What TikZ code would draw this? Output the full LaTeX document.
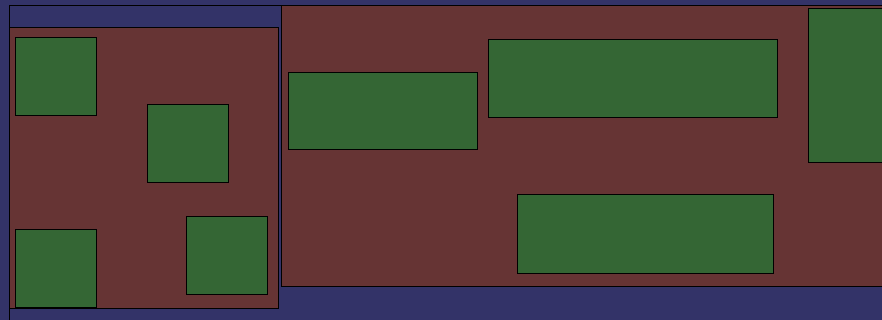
\documentclass[tikz,border=0pt]{standalone}
\usepackage{tikz}
\definecolor{planblue}{RGB}{51,51,104}
\definecolor{planred}{RGB}{102,52,52}
\definecolor{plangreen}{RGB}{52,102,52}
\tikzset{
  bluearea/.style={draw=black, fill=planblue, line width=1pt},
  redarea/.style={draw=black, fill=planred, line width=1pt},
  greenarea/.style={draw=black, fill=plangreen, line width=1pt},
}
\begin{document}
\begin{tikzpicture}[x=1pt, y=-1pt]
  \useasboundingbox (0,0) rectangle (882,320);
  \clip (0,0) rectangle (882,320);
  % Background
  \fill[planblue] (0,0) rectangle (882,320);
  \draw[bluearea] (9,6) rectangle (900,340);

  % Left block
  \draw[redarea] (9,28) rectangle (278,308);
  \draw[greenarea] (15,38) rectangle (96,116);
  \draw[greenarea] (147,105) rectangle (228,183);
  \draw[greenarea] (15,229) rectangle (96,307);
  \draw[greenarea] (186,217) rectangle (267,294);

  % Right block
  \draw[redarea] (281,6) rectangle (900,286);
  \draw[greenarea] (288,73) rectangle (477,150);
  \draw[greenarea] (488,40) rectangle (777,118);
  \draw[greenarea] (808,9) rectangle (900,163);
  \draw[greenarea] (517,195) rectangle (773,273);
\end{tikzpicture}
\end{document}
